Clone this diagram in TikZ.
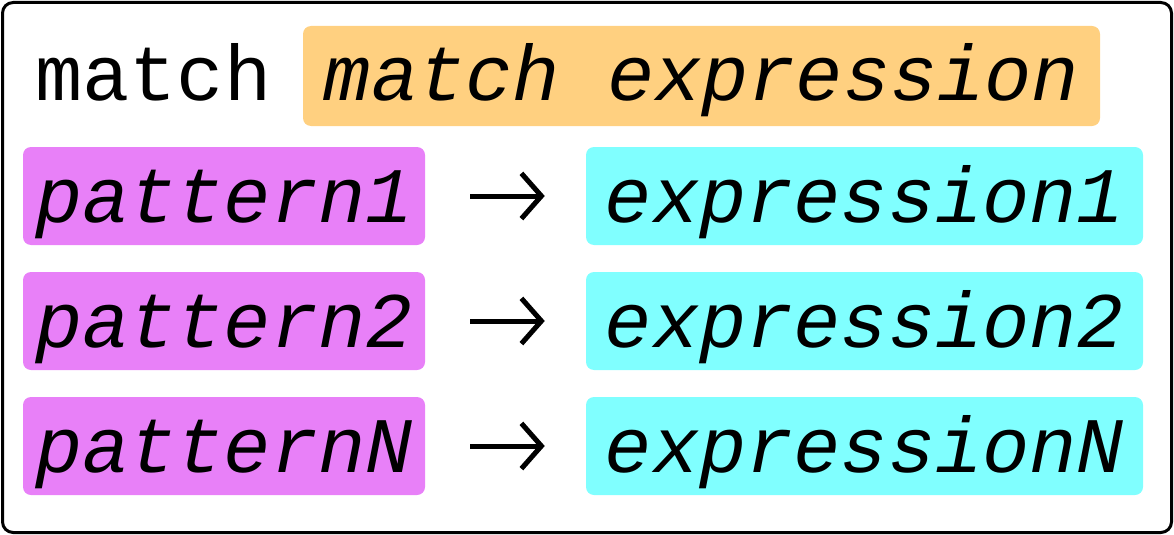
\documentclass[tikz,border=0pt]{standalone}
\usepackage{fontspec}
\setmonofont{Liberation Mono}
\usepackage{tikz}
\usetikzlibrary{arrows.meta}

\begin{document}
\begin{tikzpicture}[x=0.75pt,y=0.75pt,yscale=-1,xscale=1,
  kw/.style={font=\fontsize{59}{60}\selectfont\ttfamily, inner sep=0pt},
  slot/.style={font=\fontsize{59}{60}\selectfont\ttfamily\itshape, inner sep=0pt, rounded corners=6pt, text height=56.25pt, text depth=17.25pt},
  pat/.style={slot, fill={rgb, 255:red, 232; green, 128; blue, 248 }, minimum width=301.5pt},
  expr/.style={slot, fill={rgb, 255:red, 128; green, 255; blue, 255 }, minimum width=417.75pt},
  arr/.style={line width=3.75pt, -{Straight Barb[length=15pt, width=34pt]}, shorten <=33.75pt, shorten >=30.75pt}]
\useasboundingbox (0,0) rectangle (1174,535);

%Rounded Rect
\draw [line width=2.25pt, rounded corners=8pt] (2.5,2.5) rectangle (1171.5,532.5) ;

% Text Node
\node [kw, anchor=base west] (kw) at (35,100) {match};
% Text Node
\node [slot, fill={rgb, 255:red, 255; green, 208; blue, 128 }, minimum width=597.75pt, text height=55.5pt, text depth=19.5pt] (scrut) at (701.5,76) {match expression};

% Text Node
\node [pat] (p1) at (224,196) {pattern1};
% Text Node
\node [expr] (e1) at (864.5,196) {expression1};
% Text Node
\node [pat] (p2) at (224,321) {pattern2};
% Text Node
\node [expr] (e2) at (864.5,321) {expression2};
% Text Node
\node [pat] (pN) at (224,446) {patternN};
% Text Node
\node [expr] (eN) at (864.5,446) {expressionN};

%Straight Lines
\draw [arr] (p1) -- (e1) ;
%Straight Lines
\draw [arr] (p2) -- (e2) ;
%Straight Lines
\draw [arr] (pN) -- (eN) ;

\end{tikzpicture}
\end{document}
